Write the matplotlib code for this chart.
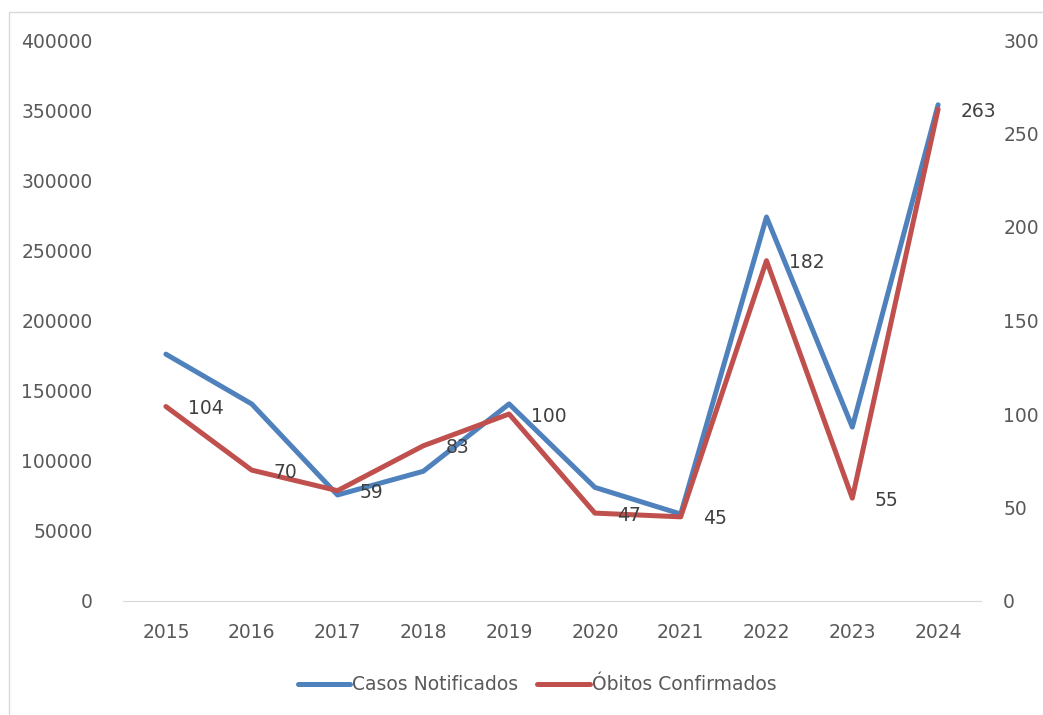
import matplotlib.pyplot as plt
from matplotlib.patches import Rectangle

anos = ["2015", "2016", "2017", "2018", "2019", "2020", "2021", "2022", "2023", "2024"]
casos = [176000, 140500, 75600, 92500, 140500, 81000, 62000, 273800, 124000, 353800]
obitos = [104, 70, 59, 83, 100, 47, 45, 182, 55, 263]

azul = "#4F81BD"
vermelho = "#C0504D"
cinza = "#595959"

plt.rcParams["font.family"] = "DejaVu Sans"
plt.rcParams["font.size"] = 13.5

fig = plt.figure(figsize=(10.43, 7.15), dpi=100)
ax = fig.add_axes([123 / 1043, 1 - 601 / 715, (981 - 123) / 1043, (601 - 40) / 715])
ax2 = ax.twinx()

x = list(range(len(anos)))
l1, = ax.plot(x, casos, color=azul, lw=3.6, solid_capstyle="round", label="Casos Notificados")
l2, = ax2.plot(x, obitos, color=vermelho, lw=3.6, solid_capstyle="round", label="Óbitos Confirmados")

for i, v in enumerate(obitos):
    ax2.annotate(str(v), (i, v), xytext=(16, -1.5), textcoords="offset points",
                 ha="left", va="center", color="#404040", fontsize=13.5)

ax.set_xlim(-0.5, len(anos) - 0.5)
ax.set_ylim(0, 400000)
ax2.set_ylim(0, 300)
ax.set_yticks(range(0, 400001, 50000))
ax2.set_yticks(range(0, 301, 50))
ax.set_xticks(x)
ax.set_xticklabels(anos)

for a in (ax, ax2):
    for s in a.spines.values():
        s.set_visible(False)
    a.tick_params(length=0, colors=cinza, labelsize=13.5)
ax.spines["bottom"].set_visible(True)
ax.spines["bottom"].set_color("#D9D9D9")
ax.tick_params(axis="y", pad=22)
ax.tick_params(axis="x", pad=16)
ax2.tick_params(axis="y", pad=16)

fig.legend(handles=[l1, l2], loc="center", bbox_to_anchor=(537 / 1043, 1 - 685 / 715),
           ncol=2, frameon=False, handlelength=2.8, handletextpad=0.1, columnspacing=1.0,
           labelcolor=cinza, fontsize=13.5)

fig.patches.append(Rectangle((9 / 1043, -0.1), 1.2, 1 - 12 / 715 + 0.1, transform=fig.transFigure,
                             fill=False, edgecolor="#D9D9D9", lw=1))

fig.savefig("out.png", dpi=100)
